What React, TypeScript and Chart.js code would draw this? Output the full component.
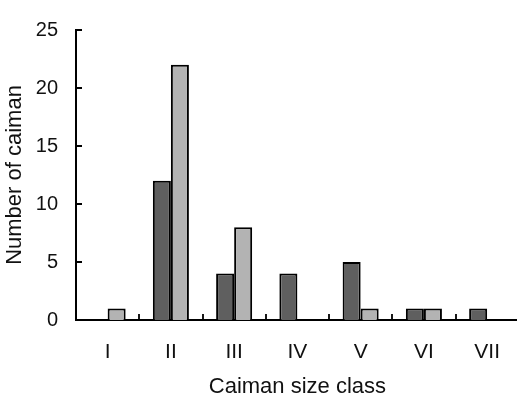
import React, { useEffect, useRef } from "react";
import { Chart, registerables } from "chart.js";

Chart.register(...registerables);

const categories = ["I", "II", "III", "IV", "V", "VI", "VII"];
const darkSeries = [0, 12, 4, 4, 5, 1, 1];
const lightSeries = [1, 22, 8, 0, 1, 1, 0];
const yTicks = [0, 5, 10, 15, 20, 25];

const FONT = "'Liberation Sans', Arial, Helvetica, sans-serif";

const innerTicks = {
  id: "innerTicks",
  afterDraw(chart: any) {
    const { ctx, chartArea, scales } = chart;
    const x = scales.x;
    const y = scales.y;
    ctx.save();
    ctx.strokeStyle = "#000";
    ctx.lineWidth = 1.8;
    ctx.beginPath();
    for (const v of yTicks) {
      if (v === 0) continue;
      const py = Math.round(y.getPixelForValue(v));
      ctx.moveTo(chartArea.left, py);
      ctx.lineTo(chartArea.left + 6, py);
    }
    const n = categories.length;
    const w = (chartArea.right - chartArea.left) / n;
    for (let i = 0; i < n - 1; i++) {
      const px = Math.round(x.getPixelForValue(i) + w / 2);
      ctx.moveTo(px, chartArea.bottom);
      ctx.lineTo(px, chartArea.bottom - 6);
    }
    ctx.stroke();
    ctx.restore();
  },
};

export default function App() {
  const ref = useRef<HTMLCanvasElement | null>(null);
  useEffect(() => {
    document.body.style.margin = "0";
    if (!ref.current) return;
    const chart = new Chart(ref.current, {
      type: "bar",
      data: {
        labels: categories,
        datasets: [
          {
            label: "dark",
            data: darkSeries,
            backgroundColor: "#5f5f5f",
            borderColor: "#000",
            borderWidth: 2,
          },
          {
            label: "light",
            data: lightSeries,
            backgroundColor: "#b3b3b3",
            borderColor: "#000",
            borderWidth: 2,
          },
        ],
      },
      options: {
        responsive: false,
        animation: false,
        layout: { padding: { top: 14, left: 0, right: 0, bottom: 0 } },
        datasets: { bar: { categoryPercentage: 0.57, barPercentage: 1.0 } },
        plugins: { legend: { display: false }, tooltip: { enabled: false } },
        scales: {
          x: {
            grid: { display: false, drawTicks: false },
            border: { display: true, color: "#000", width: 2 },
            ticks: {
              color: "#111",
              font: { family: FONT, size: 21 },
              padding: 20,
              maxRotation: 0,
            },
            title: {
              display: true,
              text: "Caiman size class",
              color: "#111",
              font: { family: FONT, size: 22 },
              padding: { top: 0, bottom: 1 },
            },
            afterFit(scale: any) {
              scale.height = 81;
            },
          },
          y: {
            min: 0,
            max: 25,
            grid: { display: false, drawTicks: false },
            border: { display: true, color: "#000", width: 2 },
            ticks: {
              stepSize: 5,
              color: "#111",
              font: { family: FONT, size: 20 },
              padding: 18,
            },
            title: {
              display: true,
              text: "Number of caiman",
              color: "#111",
              font: { family: FONT, size: 22 },
              padding: { top: 2, bottom: 0 },
            },
            afterFit(scale: any) {
              scale.width = 76;
            },
          },
        },
      },
      plugins: [innerTicks],
    });
    return () => chart.destroy();
  }, []);
  return (
    <div style={{ width: 517, height: 401, overflow: "hidden", position: "relative" }}>
      <canvas ref={ref} width={520} height={401} style={{ width: 520, height: 401, display: "block" }} />
    </div>
  );
}
